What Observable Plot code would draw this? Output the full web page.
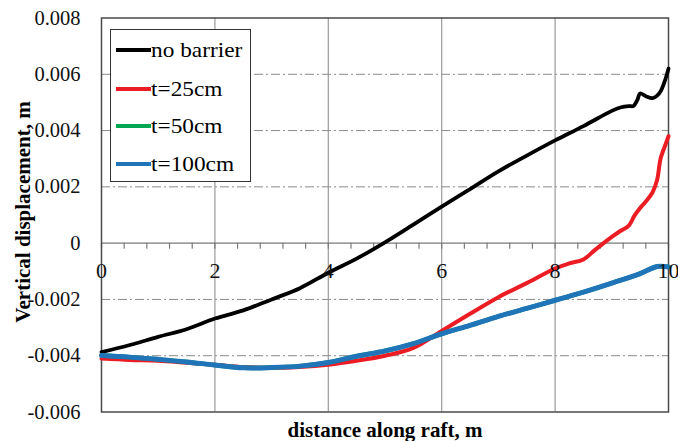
<!DOCTYPE html>
<html>
<head>
<meta charset="utf-8">
<script src="https://cdn.jsdelivr.net/npm/d3@7"></script>
<script src="https://cdn.jsdelivr.net/npm/@observablehq/plot@0.6"></script>
<style>
  body { margin: 0; background: #fff; }
  #chart { position: relative; width: 678px; height: 441px; font-family: "Liberation Serif", "Times New Roman", serif; }
  #chart svg { display: block; }
  .legend { position: absolute; left: 110px; top: 29px; width: 139px; height: 151px; border: 1.5px solid #333; background: #fff; }
  .legend .row { position: absolute; left: 0; height: 24px; display: flex; align-items: center; }
  .legend .sw { width: 35px; height: 4px; margin-left: 5px; flex: none; }
  .legend .lab { font-family: "Liberation Serif", "Times New Roman", serif; font-size: 22px; line-height: 24px; color: #000; white-space: nowrap; display: inline-block; transform: scaleX(1.06); transform-origin: left center; }
</style>
</head>
<body>
<div id="chart"></div>
<script>
// Vertical displacement (m) of the raft against distance along it (m)
const seriesNames = ["no barrier", "t=25cm", "t=50cm", "t=100cm"];
const seriesColors = ["#000000", "#ec1c24", "#00a651", "#1f75b8"];
const seriesWidths = [3.8, 4, 4.5, 5];

const noBarrierX = [0, 0.5, 1, 1.5, 2, 2.5, 3, 3.5, 4, 4.5, 5, 5.5, 6, 6.5, 7, 7.5, 8, 8.5, 9, 9.15, 9.3, 9.38, 9.45, 9.5, 9.6, 9.72, 9.8, 9.87, 9.95, 10];
const noBarrierY = [-0.00387, -0.00362, -0.00333, -0.00306, -0.00268, -0.00239, -0.00200, -0.00160, -0.00105, -0.00055, 0.00003, 0.00066, 0.00130, 0.00192, 0.00255, 0.00311, 0.00365, 0.00416, 0.00470, 0.00482, 0.00487, 0.00487, 0.00508, 0.00532, 0.00522, 0.00515, 0.00524, 0.00543, 0.00585, 0.00620];

const t25X = [0, 0.5, 1, 1.5, 2, 2.5, 3, 3.5, 4, 4.5, 5, 5.5, 6, 6.5, 7, 7.5, 8, 8.25, 8.5, 8.7, 9, 9.15, 9.3, 9.4, 9.5, 9.6, 9.72, 9.8, 9.86, 9.95, 10];
const t25Y = [-0.00410, -0.00415, -0.00418, -0.00425, -0.00432, -0.00440, -0.00443, -0.00440, -0.00432, -0.00418, -0.00400, -0.00372, -0.00312, -0.00251, -0.00192, -0.00142, -0.00090, -0.00072, -0.00058, -0.00025, 0.00022, 0.00043, 0.00062, 0.00098, 0.00125, 0.00148, 0.00181, 0.00225, 0.00300, 0.00352, 0.00380];

const t50X = [0, 0.5, 1, 1.5, 2, 2.5, 3, 3.5, 4, 4.5, 5, 5.5, 6, 6.5, 7, 7.5, 8, 8.5, 9, 9.5, 9.8, 10];
const t50Y = [-0.00399, -0.00405, -0.00413, -0.00422, -0.00433, -0.00443, -0.00442, -0.00437, -0.00424, -0.00402, -0.00383, -0.00357, -0.00322, -0.00292, -0.00260, -0.00232, -0.00203, -0.00174, -0.00142, -0.00108, -0.00083, -0.00084];

const t100X = [0, 0.5, 1, 1.5, 2, 2.5, 3, 3.5, 4, 4.5, 5, 5.5, 6, 6.5, 7, 7.5, 8, 8.5, 9, 9.5, 9.8, 10];
const t100Y = [-0.00399, -0.00405, -0.00413, -0.00422, -0.00433, -0.00443, -0.00442, -0.00437, -0.00424, -0.00402, -0.00383, -0.00357, -0.00322, -0.00292, -0.00260, -0.00232, -0.00203, -0.00174, -0.00142, -0.00108, -0.00083, -0.00085];

// Axis ticks
const xTicks = [0, 2, 4, 6, 8, 10];
const xMinorTicks = [0, 0.4, 0.8, 1.2, 1.6, 2, 2.4, 2.8, 3.2, 3.6, 4, 4.4, 4.8, 5.2, 5.6, 6, 6.4, 6.8, 7.2, 7.6, 8, 8.4, 8.8, 9.2, 9.6, 10];
const xGrid = [2, 4, 6, 8];
const yTicks = [0.008, 0.006, 0.004, 0.002, 0, -0.002, -0.004, -0.006];
const yGrid = [0.006, 0.004, 0.002, -0.002, -0.004];

const seriesX = [noBarrierX, t25X, t50X, t100X];
const seriesY = [noBarrierY, t25Y, t50Y, t100Y];
const rows = seriesNames.flatMap((name, s) =>
  seriesX[s].map((x, i) => ({series: name, x, y: seriesY[s][i]}))
);

const fmtY = (d) => (d === 0 ? "0" : d.toFixed(3));

// short downward tick drawn by the vector mark
const tickShape = {
  draw(context, length) {
    context.moveTo(0, 0);
    context.lineTo(0, -length);
  }
};

const serif = '"Liberation Serif", "Times New Roman", serif';

const chart = Plot.plot({
  width: 678,
  height: 441,
  marginLeft: 101,
  marginRight: 10,
  marginTop: 17.5,
  marginBottom: 29.5,
  x: {domain: [0, 10], axis: null},
  y: {domain: [-0.006, 0.008], axis: null},
  style: {fontFamily: serif, background: "#fff", color: "#000", overflow: "visible"},
  marks: [
    Plot.ruleY(yGrid, {stroke: "#8a8a8a", strokeWidth: 1, strokeDasharray: "9,3,2,3"}),
    Plot.ruleX(xGrid, {stroke: "#9a9a9a", strokeWidth: 1.2}),
    Plot.ruleY([0], {stroke: "#7a7a7a", strokeWidth: 1.4}),
    Plot.vector(xMinorTicks, {x: (d) => d, y: 0, length: 5, rotate: 180, anchor: "start", shape: tickShape, stroke: "#7a7a7a", strokeWidth: 1.2}),
    Plot.frame({stroke: "#4a4a4a", strokeWidth: 1.5}),
    ...seriesNames.map((name, s) =>
      Plot.line(rows.filter((r) => r.series === name), {
        x: "x",
        y: "y",
        stroke: seriesColors[s],
        strokeWidth: seriesWidths[s],
        curve: "catmull-rom"
      })
    ),
    Plot.text(yTicks, {ariaLabel: "y-tick-label", y: (d) => d, text: fmtY, frameAnchor: "left", dx: -21, textAnchor: "end", fontFamily: serif, fontSize: 20.5, fill: "#111"}),
    Plot.text(xTicks, {ariaLabel: "x-tick-label", x: (d) => d, y: 0, text: (d) => String(d), dy: 27.6, fontFamily: serif, fontSize: 22, fill: "#111"}),
    Plot.text(["Vertical displacement, m"], {ariaLabel: "y-title", frameAnchor: "left", dx: -78, dy: -3, rotate: -90, textAnchor: "middle", lineAnchor: "middle", fontFamily: serif, fontSize: 21, fontWeight: "bold", fill: "#000"}),
    Plot.text(["distance along raft, m"], {ariaLabel: "x-title", frameAnchor: "bottom", dy: 18.5, lineAnchor: "middle", fontFamily: serif, fontSize: 21, fontWeight: "bold", fill: "#000"})
  ]
});

const root = document.getElementById("chart");
root.appendChild(chart);

// widen the horizontal labels a little, keeping their anchors
function widen(label, factor) {
  chart.querySelectorAll(`g[aria-label="${label}"] text`).forEach((t) => {
    const w = t.getComputedTextLength();
    if (w > 0) {
      t.setAttribute("textLength", (w * factor).toFixed(1));
      t.setAttribute("lengthAdjust", "spacingAndGlyphs");
    }
  });
}
widen("y-tick-label", 1.12);
widen("x-title", 1.1);

// Legend box in the upper left of the plotting area
const legend = document.createElement("div");
legend.className = "legend";
const rowCentres = [20, 58.5, 96, 133.5];
seriesNames.forEach((name, s) => {
  const row = document.createElement("div");
  row.className = "row";
  row.style.top = (rowCentres[s] - 12) + "px";
  const sw = document.createElement("div");
  sw.className = "sw";
  sw.style.background = seriesColors[s];
  const lab = document.createElement("span");
  lab.className = "lab";
  lab.textContent = name;
  row.appendChild(sw);
  row.appendChild(lab);
  legend.appendChild(row);
});
root.appendChild(legend);
</script>
</body>
</html>
